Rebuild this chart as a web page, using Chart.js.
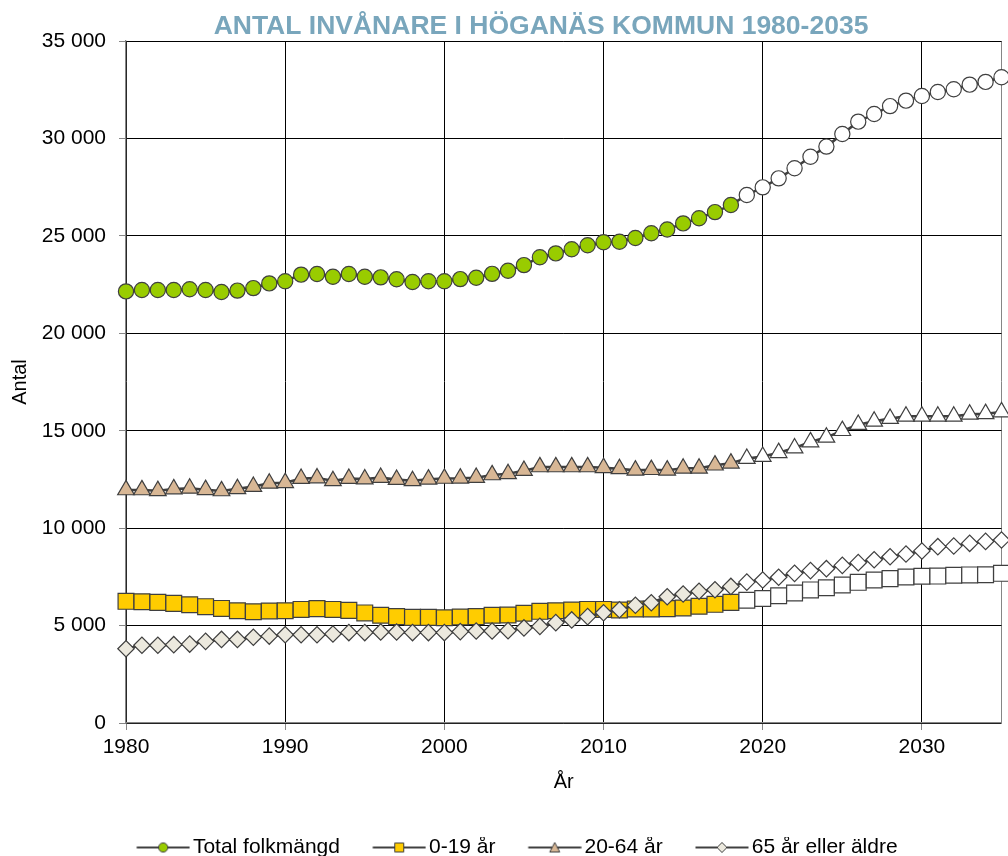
<!DOCTYPE html>
<html>
<head>
<meta charset="utf-8">
<script src="https://cdn.jsdelivr.net/npm/chart.js@4/dist/chart.umd.min.js"></script>
<style>
  html, body { margin: 0; padding: 0; background: #ffffff; }
  #wrap { width: 1008px; height: 856px; }
</style>
</head>
<body>
<div id="wrap"><canvas id="c" width="1008" height="856"></canvas></div>
<script>
const chartTitle = 'ANTAL INVÅNARE I HÖGANÄS KOMMUN 1980-2035';
const seriesNames = ['Total folkmängd', '0-19 år', '20-64 år', '65 år eller äldre'];
const lastActualYear = 2018;

const years = [
  1980, 1981, 1982, 1983, 1984, 1985, 1986, 1987, 1988, 1989,
  1990, 1991, 1992, 1993, 1994, 1995, 1996, 1997, 1998, 1999,
  2000, 2001, 2002, 2003, 2004, 2005, 2006, 2007, 2008, 2009,
  2010, 2011, 2012, 2013, 2014, 2015, 2016, 2017, 2018, 2019,
  2020, 2021, 2022, 2023, 2024, 2025, 2026, 2027, 2028, 2029,
  2030, 2031, 2032, 2033, 2034, 2035
];

const totalPop = [
  22150, 22220, 22220, 22220, 22260, 22220, 22120, 22190, 22320, 22560,
  22670, 23010, 23040, 22900, 23040, 22900, 22870, 22770, 22630, 22670,
  22670, 22780, 22850, 23050, 23210, 23500, 23900, 24100, 24310, 24520,
  24670, 24700, 24890, 25130, 25330, 25640, 25900, 26220, 26580, 27100,
  27490, 27950, 28470, 29060, 29580, 30230, 30860, 31250, 31660, 31940,
  32180, 32380, 32520, 32760, 32900, 33140
];

const age0to19 = [
  6245, 6225, 6190, 6140, 6070, 5970, 5880, 5760, 5710, 5750,
  5760, 5830, 5870, 5830, 5780, 5650, 5530, 5460, 5420, 5420,
  5400, 5440, 5460, 5530, 5540, 5630, 5730, 5760, 5800, 5830,
  5830, 5800, 5850, 5850, 5870, 5900, 5990, 6090, 6190, 6300,
  6390, 6530, 6670, 6830, 6940, 7080, 7220, 7340, 7410, 7490,
  7530, 7540, 7580, 7600, 7610, 7680
];

const age20to64 = [
  11960, 11960, 11920, 12010, 12040, 11970, 11910, 12020, 12130, 12300,
  12330, 12540, 12570, 12430, 12540, 12520, 12590, 12490, 12430, 12510,
  12550, 12560, 12590, 12730, 12790, 12950, 13140, 13140, 13140, 13140,
  13100, 13040, 12970, 13000, 12970, 13070, 13070, 13230, 13330, 13570,
  13670, 13870, 14110, 14420, 14660, 15000, 15310, 15480, 15620, 15740,
  15740, 15740, 15740, 15840, 15870, 15960
];

const age65plus = [
  3810, 3990, 3990, 4020, 4050, 4190, 4290, 4290, 4400, 4460,
  4530, 4530, 4530, 4570, 4640, 4640, 4670, 4670, 4640, 4640,
  4640, 4690, 4720, 4720, 4740, 4880, 4960, 5150, 5290, 5460,
  5660, 5810, 6040, 6170, 6480, 6620, 6760, 6840, 7010, 7230,
  7340, 7480, 7680, 7820, 7920, 8090, 8230, 8380, 8530, 8670,
  8830, 9050, 9080, 9220, 9320, 9390
];

const yTicks = [0, 5000, 10000, 15000, 20000, 25000, 30000, 35000];
const xTicks = [1980, 1990, 2000, 2010, 2020, 2030];

const FONT = "'Liberation Sans', Arial, sans-serif";
const LINE_COLOR = '#404040';
const MARKER_BORDER = '#3f3f3f';
const fills = ['#99CC00', '#FFCC00', '#D8B795', '#ECE9DE'];
const styles = ['circle', 'rect', 'triangle', 'rectRot'];
const radii = [7.6, 11.2, 9.6, 8.2];

function pts(vals) { return years.map((y, i) => ({ x: y, y: vals[i] })); }

function legendIcon(idx) {
  const c = document.createElement('canvas');
  c.width = 94; c.height = 16;
  const g = c.getContext('2d');
  g.strokeStyle = LINE_COLOR; g.lineWidth = 2.2;
  g.beginPath(); g.moveTo(40.5, 8); g.lineTo(93.5, 8); g.stroke();
  const cx = 67, cy = 8;
  g.fillStyle = fills[idx]; g.strokeStyle = MARKER_BORDER; g.lineWidth = 1;
  g.beginPath();
  if (idx === 0) { g.arc(cx, cy, 4.6, 0, Math.PI * 2); }
  else if (idx === 1) { g.rect(cx - 4.5, cy - 4.5, 9, 9); }
  else if (idx === 2) { g.moveTo(cx, cy - 5); g.lineTo(cx + 5, cy + 4.5); g.lineTo(cx - 5, cy + 4.5); g.closePath(); }
  else { g.moveTo(cx, cy - 5); g.lineTo(cx + 5, cy); g.lineTo(cx, cy + 5); g.lineTo(cx - 5, cy); g.closePath(); }
  g.fill(); g.stroke();
  return c;
}
const legendIcons = [0, 1, 2, 3].map(legendIcon);

const seriesValues = [totalPop, age0to19, age20to64, age65plus];
const datasets = seriesValues.map((vals, i) => ({
  label: seriesNames[i],
  data: pts(vals),
  order: 4 - i,
  borderColor: LINE_COLOR,
  borderWidth: 2.6,
  tension: 0,
  clip: false,
  pointStyle: styles[i],
  pointRadius: radii[i],
  pointBorderWidth: 1.2,
  pointBorderColor: MARKER_BORDER,
  pointBackgroundColor: (ctx) => (years[ctx.dataIndex] <= lastActualYear ? fills[i] : '#FFFFFF')
}));

const titlePlugin = {
  id: 'topTitle',
  afterDraw(chart) {
    const g = chart.ctx;
    g.save();
    g.font = "bold 26.5px " + FONT;
    g.fillStyle = '#79A6BC';
    g.textAlign = 'center';
    g.textBaseline = 'middle';
    g.fillText(chartTitle, 541, 27);
    g.restore();
  }
};

function fmt(v) { return String(v).replace(/\B(?=(\d{3})+(?!\d))/g, ' '); }
const zeroPad = () => ({ left: 0, top: 0, right: 0, bottom: 0 });

new Chart(document.getElementById('c'), {
  type: 'line',
  data: { datasets },
  plugins: [titlePlugin],
  options: {
    responsive: false,
    animation: false,
    devicePixelRatio: 1,
    events: [],
    layout: { autoPadding: false, padding: { left: 0, right: 6.5, top: 41, bottom: -12 } },
    plugins: {
      title: { display: false },
      tooltip: { enabled: false },
      legend: {
        position: 'bottom',
        align: 'center',
        labels: {
          usePointStyle: true,
          pointStyleWidth: 78.5,
          padding: 0,
          color: '#000000',
          font: { family: FONT, size: 21 },
          generateLabels: (chart) => chart.data.datasets.map((ds, i) => ({
            text: ds.label,
            datasetIndex: i,
            pointStyle: legendIcons[i],
            fillStyle: 'rgba(0,0,0,0)',
            strokeStyle: 'rgba(0,0,0,0)',
            lineWidth: 0,
            hidden: false,
            fontColor: '#000000'
          }))
        }
      }
    },
    scales: {
      x: {
        type: 'linear',
        min: 1980,
        max: 2035,
        afterFit: (s) => { s.height = 114; s.paddingRight = 0; s.paddingLeft = 0; s.getPadding = zeroPad; },
        afterBuildTicks: (s) => { s.ticks = xTicks.concat([2035]).map(v => ({ value: v })); },
        ticks: {
          stepSize: 10,
          padding: 5,
          color: '#000000',
          font: { family: FONT, size: 21 },
          maxRotation: 0,
          callback: (v) => (xTicks.includes(v) ? String(v) : '')
        },
        grid: {
          color: (ctx) => (ctx.tick && ctx.tick.value === 2035 ? '#868686' : '#000000'),
          lineWidth: 1,
          tickLength: 7,
          tickColor: (ctx) => (ctx.tick && ctx.tick.value === 2035 ? 'rgba(0,0,0,0)' : '#868686')
        },
        border: { color: '#868686', width: 1.3 },
        title: {
          display: true,
          text: 'År',
          color: '#000000',
          font: { family: FONT, size: 20 },
          padding: { top: 0, bottom: 43 }
        }
      },
      y: {
        type: 'linear',
        min: 0,
        max: 35000,
        afterFit: (s) => { s.width = 126; s.getPadding = zeroPad; },
        afterBuildTicks: (s) => { s.ticks = yTicks.map(v => ({ value: v })); },
        ticks: {
          stepSize: 5000,
          padding: 13,
          color: '#000000',
          font: { family: FONT, size: 21 },
          callback: (v) => fmt(v)
        },
        grid: {
          color: '#000000',
          lineWidth: 1,
          tickLength: 7,
          tickColor: '#868686'
        },
        border: { color: '#868686', width: 1.3 },
        title: {
          display: true,
          text: 'Antal',
          color: '#000000',
          font: { family: FONT, size: 20 },
          padding: { top: 8, bottom: 0 }
        }
      }
    }
  }
});
</script>
</body>
</html>
